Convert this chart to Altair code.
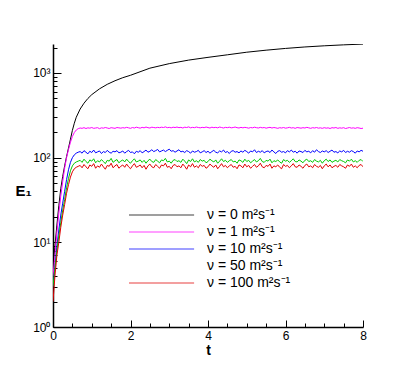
import altair as alt
import pandas as pd

# ---------------- data ----------------
labels = ["ν = 0 m²s⁻¹", "ν = 1 m²s⁻¹", "ν = 10 m²s⁻¹", "ν = 50 m²s⁻¹", "ν = 100 m²s⁻¹"]
colors = ["#000000", "#FF00FF", "#0000FF", "#00C800", "#E00000"]

# nu = 0 (smooth, keeps growing)
t_black = [0, 0.05, 0.1, 0.15, 0.2, 0.25, 0.3, 0.35, 0.4, 0.45, 0.5, 0.55, 0.6, 0.7, 0.8, 0.9, 1.0,
           1.2, 1.4, 1.6, 1.8, 2.0, 2.5, 3.0, 3.5, 4.0, 4.5, 5.0, 5.5, 6.0, 6.5, 7.0, 7.5, 8.0]
e_black = [5, 9, 16, 27, 43, 60, 80, 103, 130, 165, 210, 255, 300, 375, 440, 500, 555,
           650, 735, 810, 880, 940, 1140, 1290, 1420, 1530, 1640, 1760, 1860, 1950, 2030, 2095, 2150, 2195]

# noisy series sampled every 0.05 from t = 0 to 8 (161 samples)
t_fine = [round(i * 0.05, 2) for i in range(161)]

e_nu1 = [4, 7, 13, 22, 35, 52, 75, 100, 125, 152, 178, 198, 212, 220,
         224, 222, 226, 221, 225, 223, 227, 222, 224, 226, 220, 225, 223, 227, 224, 221, 226, 224, 222, 227, 225,
         223, 226, 224, 228, 225, 222, 227, 224, 229, 226, 223, 228, 225, 230, 226, 224, 229, 227, 225, 228, 226,
         229, 227, 231, 226, 228, 225, 229, 227, 230, 226, 228, 224, 229, 227, 231, 225, 228, 226, 230, 227, 225,
         228, 226, 230, 227, 224, 229, 226, 228, 225, 230, 227, 224, 228, 226, 229, 225, 227, 230, 226, 224, 228,
         225, 228, 226, 223, 227, 225, 229, 226, 224, 228, 225, 227, 223, 226, 228, 224, 227, 225, 222, 226, 224,
         227, 223, 225, 228, 224, 226, 222, 227, 225, 223, 226, 224, 228, 225, 222, 226, 224, 227, 223, 225, 222,
         226, 223, 225, 221, 226, 224, 227, 222, 225, 223, 226, 221, 224, 227, 223, 225, 222, 226, 224, 221, 223]

e_nu10 = [3, 5, 9, 14, 21, 29, 40, 55, 72, 88, 100, 108, 113, 116,
          118, 113, 121, 116, 111, 119, 115, 123, 114, 117, 120, 112, 118, 115, 122, 116, 113, 119, 117, 121, 114,
          116, 120, 113, 118, 122, 115, 117, 111, 119, 116, 121, 114, 118, 123, 116, 119, 124, 118, 121, 125, 117,
          120, 123, 118, 122, 126, 119, 121, 116, 120, 124, 117, 119, 115, 121, 118, 113, 120, 116, 118, 122, 114,
          117, 121, 115, 119, 113, 118, 122, 116, 114, 120, 117, 123, 115, 118, 112, 119, 121, 116, 118, 114, 120,
          116, 122, 118, 113, 120, 117, 124, 115, 119, 116, 121, 114, 118, 120, 115, 123, 117, 112, 119, 121, 116,
          118, 114, 121, 117, 123, 116, 119, 113, 120, 118, 115, 122, 117, 119, 114, 121, 116, 124, 118, 115, 120,
          117, 121, 115, 119, 123, 116, 118, 114, 120, 117, 122, 115, 119, 116, 121, 118, 113, 120, 117, 122, 119]

e_nu50 = [3, 5, 8, 12, 17, 24, 32, 44, 57, 70, 80, 86, 89, 91,
          93, 88, 96, 90, 86, 94, 91, 97, 87, 92, 89, 95, 90, 85, 93, 91, 98, 88, 92, 95, 87,
          91, 94, 89, 96, 90, 86, 92, 97, 89, 91, 94, 88, 93, 86, 92, 96, 90, 88, 95, 91, 87,
          94, 92, 98, 89, 91, 86, 93, 95, 90, 92, 88, 96, 91, 85, 94, 90, 97, 89, 92, 88, 95,
          91, 93, 87, 90, 96, 92, 89, 94, 86, 91, 97, 90, 93, 88, 92, 95, 89, 91, 86, 94, 92,
          88, 96, 90, 93, 87, 91, 95, 89, 92, 98, 90, 88, 93, 91, 96, 87, 92, 90, 94, 89, 86,
          95, 91, 93, 88, 92, 97, 90, 89, 94, 91, 87, 93, 96, 90, 92, 88, 95, 91, 89, 93, 86,
          92, 96, 90, 94, 88, 91, 93, 89, 95, 92, 90, 87, 94, 91, 96, 89, 92, 88, 93, 95, 90]

e_nu100 = [2, 4, 7, 10, 15, 21, 28, 38, 48, 59, 68, 74, 77, 79,
           81, 76, 83, 78, 74, 82, 79, 85, 75, 80, 77, 84, 78, 73, 81, 79, 86, 76, 80, 83, 75,
           79, 82, 77, 84, 78, 74, 80, 85, 77, 79, 82, 76, 81, 73, 80, 84, 78, 76, 83, 79, 75,
           82, 80, 86, 77, 79, 74, 81, 83, 78, 80, 76, 84, 79, 73, 82, 78, 85, 77, 80, 76, 83,
           79, 81, 75, 78, 84, 80, 77, 82, 74, 79, 85, 78, 81, 76, 80, 83, 77, 79, 74, 82, 80,
           76, 84, 78, 81, 75, 79, 83, 77, 80, 86, 78, 76, 81, 79, 84, 75, 80, 78, 82, 77, 74,
           83, 79, 81, 76, 80, 85, 78, 77, 82, 79, 75, 81, 84, 78, 80, 76, 83, 79, 77, 81, 74,
           80, 84, 78, 82, 76, 79, 81, 77, 83, 80, 78, 75, 82, 79, 84, 77, 80, 76, 81, 83, 78]

x_major = [0, 2, 4, 6, 8]
x_minor = [i * 0.5 for i in range(17)]
y_major = [1, 10, 100, 1000]
y_minor = [1, 2, 3, 4, 5, 6, 7, 8, 9, 10, 20, 30, 40, 50, 60, 70, 80, 90,
           100, 200, 300, 400, 500, 600, 700, 800, 900, 1000, 2000]

rows = []
for t, e in zip(t_black, e_black):
    rows.append({"t": t, "E": e, "series": labels[0]})
for lab, vals in zip(labels[1:], [e_nu1, e_nu10, e_nu50, e_nu100]):
    for t, e in zip(t_fine, vals):
        rows.append({"t": t, "E": e, "series": lab})
df = pd.DataFrame(rows)

# ---------------- chart ----------------
FONT = "Liberation Sans"
W, H = 310, 283
x_scale = alt.Scale(domain=[0, 8], nice=False, zero=False)
y_scale = alt.Scale(type="log", domain=[1, 2200], nice=False)

base = alt.Chart(df)

lines = base.mark_line(strokeWidth=1, clip=True).encode(
    x=alt.X("t:Q", scale=x_scale,
            axis=alt.Axis(orient="bottom", values=x_major, ticks=False, grid=False,
                          domainColor="black", domainWidth=1.5,
                          labelFont=FONT, labelFontSize=12, labelColor="black",
                          labelPadding=3, labelFlush=False,
                          title="t", titleFont=FONT, titleFontSize=14, titleFontWeight="bold",
                          titleColor="black", titlePadding=2)),
    y=alt.Y("E:Q", scale=y_scale,
            axis=alt.Axis(orient="left", values=y_major, ticks=False, grid=False,
                          domainColor="black", domainWidth=1.5,
                          labelExpr="datum.value == 1 ? '10⁰' : datum.value == 10 ? '10¹' : datum.value == 100 ? '10²' : '10³'",
                          labelFont=FONT, labelFontSize=12, labelColor="black", labelPadding=3,
                          labelFlush=False,
                          title="E₁", titleFont=FONT, titleFontSize=15, titleFontWeight="bold",
                          titleColor="black", titleAngle=0, titleAlign="left", titleBaseline="middle",
                          titleX=-38, titleY=146)),
    color=alt.Color("series:N",
                    scale=alt.Scale(domain=labels, range=colors),
                    legend=alt.Legend(orient="none", legendX=72, legendY=164, title=None,
                                      symbolType="M-1,0H20.7", symbolSize=36, symbolStrokeWidth=1,
                                      symbolOpacity={"expr": "datum.value == '" + labels[3] + "' ? 0 : 0.75"},
                                      labelFont=FONT, labelFontSize=14, labelColor="black",
                                      labelOffset=68, rowPadding=3, padding=0)),
)

tick_layer = base.mark_line(opacity=0).encode(
    x=alt.X("t:Q", scale=x_scale,
            axis=alt.Axis(orient="top", offset=-H, values=x_minor, labels=False, domain=False,
                          grid=False, tickColor="black", tickWidth=1,
                          tickSize={"condition": {"test": "datum.value % 2 == 0", "value": 7}, "value": 4},
                          title="")),
    y=alt.Y("E:Q", scale=y_scale,
            axis=alt.Axis(orient="right", offset=-W, values=y_minor, labels=False, domain=False,
                          grid=False, tickColor="black", tickWidth=1,
                          tickSize={"condition": {"test": "datum.value == 1 || datum.value == 10 || datum.value == 100 || datum.value == 1000", "value": 8}, "value": 4},
                          title="")),
    detail="series:N",
)

chart = alt.layer(lines, tick_layer).resolve_axis(
    x="independent", y="independent"
).properties(
    width=W, height=H,
    autosize=alt.AutoSizeParams(type="none"),
    padding={"left": 45, "top": 36, "right": 40, "bottom": 40},
).configure_view(stroke=None)

chart.save("out.html", embed_options={"renderer": "svg", "actions": False})
